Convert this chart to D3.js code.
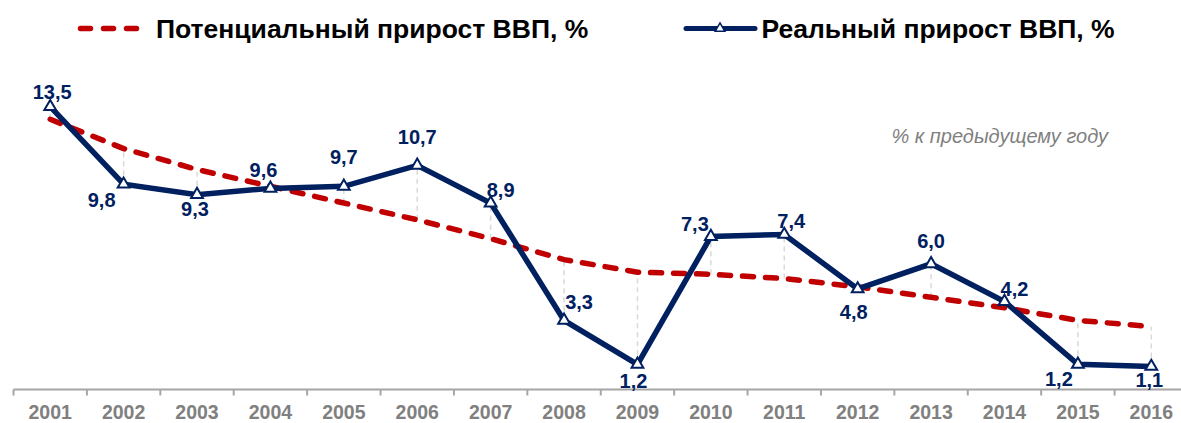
<!DOCTYPE html>
<html>
<head>
<meta charset="utf-8">
<script src="https://cdn.jsdelivr.net/npm/d3@7/dist/d3.min.js"></script>
<style>
  html, body { margin: 0; padding: 0; background: #fff; }
  svg { display: block; font-family: "Liberation Sans", Arial, sans-serif; }
</style>
</head>
<body>
<svg id="chart" width="1181" height="423"></svg>
<script>
// ---- data ----
const years = ["2001","2002","2003","2004","2005","2006","2007","2008",
               "2009","2010","2011","2012","2013","2014","2015","2016"];
const realGrowth = [13.5, 9.8, 9.3, 9.6, 9.7, 10.7, 8.9, 3.3,
                    1.2, 7.3, 7.4, 4.8, 6.0, 4.2, 1.2, 1.1];
const potentialGrowth = [12.9, 11.5, 10.5, 9.7, 8.9, 8.1, 7.2, 6.2,
                         5.6, 5.5, 5.3, 4.9, 4.4, 3.9, 3.3, 3.0];
const seriesNames = ["Потенциальный прирост ВВП, %", "Реальный прирост ВВП, %"];
const unitNote = "% к предыдущему году";

// label placement (offset of label centre from point, px)
const labelOffsets = [[2,-15],[-22,16],[-2,14],[-7,-18],[0,-29],[0,-28],[10,-13],[15,-18],
                      [-4,17],[-16,-13],[7,-13],[-4,23],[0,-23],[10,-13],[-19,15],[-2,14]];

const navy = "#002060", red = "#c00000", gray = "#808080";
const svg = d3.select("#chart");

const x = d3.scaleBand().domain(years).range([13.5, 1188]).padding(0);
const y = d3.scaleLinear().domain([0, 14]).range([389.5, 389.5 - 14 * 20.95]);
const cx = d => x(d) + x.bandwidth() / 2;

const fmt = v => d3.format(".1f")(v).replace(".", ",");

// ---- axis ----
const axisG = svg.append("g").attr("transform", `translate(0,${y(0)})`)
  .call(d3.axisBottom(x).tickSize(0).tickSizeOuter(0));
axisG.select(".domain").remove();
axisG.append("line").attr("x1", x.range()[0]).attr("x2", 1181)
  .attr("stroke", "#a6a6a6").attr("stroke-width", 2);
const bounds = years.map(d => x(d)).concat([x.range()[1]]);
axisG.selectAll(".btick").data(bounds).join("line").attr("class", "btick")
  .attr("x1", d => d).attr("x2", d => d).attr("y1", 0).attr("y2", 6)
  .attr("stroke", "#a6a6a6").attr("stroke-width", 2);
axisG.selectAll(".tick text")
  .attr("y", 29.5).attr("dy", 0)
  .attr("fill", gray).attr("font-size", 19.5).attr("font-weight", "bold")
  .attr("font-family", "Liberation Sans, Arial, sans-serif");

// ---- drop lines ----
svg.append("g").selectAll("line").data(years).join("line")
  .attr("x1", d => cx(d)).attr("x2", d => cx(d))
  .attr("y1", (d, i) => y(Math.min(realGrowth[i], potentialGrowth[i])))
  .attr("y2", (d, i) => y(Math.max(realGrowth[i], potentialGrowth[i])))
  .attr("stroke", "#d9d9d9").attr("stroke-width", 1.5).attr("stroke-dasharray", "5,4");

// ---- potential (dashed red) ----
const line = d3.line().x((d, i) => cx(years[i])).y(d => y(d));
svg.append("path").datum(potentialGrowth).attr("d", line)
  .attr("fill", "none").attr("stroke", red).attr("stroke-width", 5.5)
  .attr("stroke-linecap", "round").attr("stroke-dasharray", "11,12");

// ---- real (navy) ----
svg.append("path").datum(realGrowth).attr("d", line)
  .attr("fill", "none").attr("stroke", navy).attr("stroke-width", 5.5)
  .attr("stroke-linejoin", "miter");

const tri = d3.symbol().type(d3.symbolTriangle).size(60);
svg.append("g").selectAll("path").data(realGrowth).join("path")
  .attr("d", tri)
  .attr("transform", (d, i) => `translate(${cx(years[i])},${y(d)})`)
  .attr("fill", "#fff").attr("stroke", navy).attr("stroke-width", 2);

// ---- data labels ----
svg.append("g").selectAll("text").data(realGrowth).join("text")
  .attr("x", (d, i) => cx(years[i]) + labelOffsets[i][0])
  .attr("y", (d, i) => y(d) + labelOffsets[i][1] + 7)
  .attr("text-anchor", "middle")
  .attr("font-size", 20).attr("font-weight", "bold").attr("fill", navy)
  .text(d => fmt(d));

// ---- note ----
svg.append("text").attr("x", 1108).attr("y", 143).attr("text-anchor", "end")
  .attr("font-size", 20).attr("font-style", "italic").attr("fill", gray)
  .text(unitNote);

// ---- legend ----
const lg = svg.append("g");
lg.append("line").attr("x1", 80.5).attr("x2", 136.5).attr("y1", 28.5).attr("y2", 28.5)
  .attr("stroke", red).attr("stroke-width", 5.5).attr("stroke-linecap", "round")
  .attr("stroke-dasharray", "10,13");
lg.append("text").attr("x", 156).attr("y", 37.5)
  .attr("font-size", 26.5).attr("font-weight", "bold").attr("fill", "#000")
  .text(seriesNames[0]);
lg.append("line").attr("x1", 686).attr("x2", 755).attr("y1", 28.5).attr("y2", 28.5)
  .attr("stroke", navy).attr("stroke-width", 5).attr("stroke-linecap", "round");
lg.append("path").attr("d", d3.symbol().type(d3.symbolTriangle).size(40))
  .attr("transform", "translate(720,28.5)")
  .attr("fill", "#fff").attr("stroke", navy).attr("stroke-width", 1.5);
lg.append("text").attr("x", 761.5).attr("y", 37.5)
  .attr("font-size", 26.5).attr("font-weight", "bold").attr("fill", "#000")
  .text(seriesNames[1]);
</script>
</body>
</html>
